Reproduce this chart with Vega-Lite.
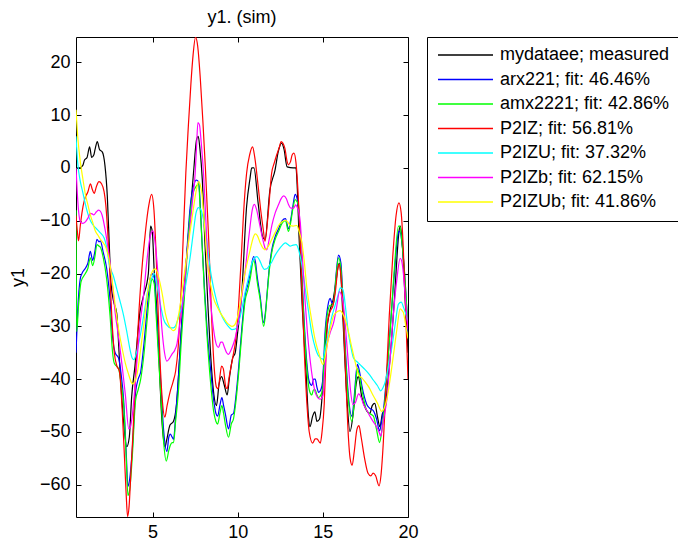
{
"$schema":"https://vega.github.io/schema/vega-lite/v6.json",
"width":332,"height":480,
"autosize":{"type":"none"},
"padding":{"left":76,"top":37,"right":270,"bottom":27},
"background":"white",
"title":{"text":"y1. (sim)","font":"Liberation Sans","fontSize":18,"fontWeight":"normal","color":"black","offset":8},
"config":{
 "view":{"stroke":"black","strokeWidth":1},
 "axis":{"domain":false,"grid":false,"ticks":true,"tickSize":-5,"tickColor":"black","tickWidth":1,"labelFont":"Liberation Sans","labelFontSize":18,"labelColor":"black","labelPadding":11,"labelFlush":false,"labelOverlap":false,"titleFont":"Liberation Sans","titleFontSize":18,"titleFontWeight":"normal","titleColor":"black"}
},
"datasets":{"d":[
{"s":"m","x":0.5,"y":0},{"s":"m","x":0.7,"y":0},{"s":"m","x":0.9,"y":0.5},{"s":"m","x":1.0,"y":1.5},{"s":"m","x":1.15,"y":2},{"s":"m","x":1.3,"y":4},{"s":"m","x":1.42,"y":2},{"s":"m","x":1.55,"y":2.5},{"s":"m","x":1.62,"y":3.5},{"s":"m","x":1.75,"y":5},{"s":"m","x":1.88,"y":3.5},{"s":"m","x":2.05,"y":3},{"s":"m","x":2.2,"y":0.5},{"s":"m","x":2.34,"y":-5.4},{"s":"m","x":2.46,"y":-15},{"s":"m","x":2.54,"y":-21},{"s":"m","x":2.69,"y":-25},{"s":"m","x":2.89,"y":-27.5},{"s":"m","x":3.08,"y":-38},{"s":"m","x":3.28,"y":-47.5},{"s":"m","x":3.48,"y":-52.8},{"s":"m","x":3.63,"y":-51},{"s":"m","x":3.77,"y":-43.3},{"s":"m","x":3.96,"y":-37.6},{"s":"m","x":4.26,"y":-27.2},{"s":"m","x":4.45,"y":-24.4},{"s":"m","x":4.75,"y":-20},{"s":"m","x":4.88,"y":-11},{"s":"m","x":4.98,"y":-12},{"s":"m","x":5.1,"y":-20},{"s":"m","x":5.25,"y":-27},{"s":"m","x":5.4,"y":-38},{"s":"m","x":5.53,"y":-47},{"s":"m","x":5.73,"y":-52.8},{"s":"m","x":5.82,"y":-51.6},{"s":"m","x":6.02,"y":-48.7},{"s":"m","x":6.22,"y":-48},{"s":"m","x":6.41,"y":-44.6},{"s":"m","x":6.62,"y":-34},{"s":"m","x":6.8,"y":-24.7},{"s":"m","x":7.0,"y":-16.8},{"s":"m","x":7.2,"y":-8.9},{"s":"m","x":7.4,"y":-1},{"s":"m","x":7.59,"y":5.5},{"s":"m","x":7.68,"y":6},{"s":"m","x":7.78,"y":3.6},{"s":"m","x":7.92,"y":-2.3},{"s":"m","x":8.07,"y":-14},{"s":"m","x":8.27,"y":-27.4},{"s":"m","x":8.46,"y":-37.9},{"s":"m","x":8.6,"y":-43},{"s":"m","x":8.75,"y":-45},{"s":"m","x":8.9,"y":-41},{"s":"m","x":9.05,"y":-39.5},{"s":"m","x":9.2,"y":-41},{"s":"m","x":9.38,"y":-43},{"s":"m","x":9.5,"y":-40},{"s":"m","x":9.7,"y":-36},{"s":"m","x":9.85,"y":-35},{"s":"m","x":10.0,"y":-31},{"s":"m","x":10.23,"y":-24},{"s":"m","x":10.52,"y":-7.3},{"s":"m","x":10.72,"y":-2},{"s":"m","x":10.82,"y":0},{"s":"m","x":10.95,"y":0},{"s":"m","x":11.2,"y":-6.7},{"s":"m","x":11.46,"y":-13},{"s":"m","x":11.6,"y":-13.6},{"s":"m","x":11.89,"y":-4.2},{"s":"m","x":12.19,"y":-0.4},{"s":"m","x":12.38,"y":3.1},{"s":"m","x":12.58,"y":4.7},{"s":"m","x":12.72,"y":3.5},{"s":"m","x":12.9,"y":0.2},{"s":"m","x":13.26,"y":0},{"s":"m","x":13.42,"y":0},{"s":"m","x":13.5,"y":-4},{"s":"m","x":13.6,"y":-13},{"s":"m","x":13.8,"y":-27},{"s":"m","x":14.0,"y":-38},{"s":"m","x":14.15,"y":-47},{"s":"m","x":14.24,"y":-49},{"s":"m","x":14.4,"y":-47},{"s":"m","x":14.53,"y":-46.2},{"s":"m","x":14.65,"y":-48},{"s":"m","x":14.8,"y":-47.6},{"s":"m","x":14.93,"y":-44.3},{"s":"m","x":15.1,"y":-35},{"s":"m","x":15.25,"y":-30},{"s":"m","x":15.41,"y":-27},{"s":"m","x":15.6,"y":-25},{"s":"m","x":15.75,"y":-22},{"s":"m","x":15.96,"y":-18},{"s":"m","x":16.05,"y":-20},{"s":"m","x":16.2,"y":-30},{"s":"m","x":16.4,"y":-43},{"s":"m","x":16.59,"y":-49.9},{"s":"m","x":16.8,"y":-46},{"s":"m","x":16.95,"y":-41},{"s":"m","x":17.08,"y":-39.5},{"s":"m","x":17.28,"y":-43.3},{"s":"m","x":17.5,"y":-45.5},{"s":"m","x":17.76,"y":-46.5},{"s":"m","x":17.9,"y":-45},{"s":"m","x":18.05,"y":-44.6},{"s":"m","x":18.2,"y":-47},{"s":"m","x":18.35,"y":-49},{"s":"m","x":18.5,"y":-46.5},{"s":"m","x":18.64,"y":-45.8},{"s":"m","x":18.8,"y":-41},{"s":"m","x":19.0,"y":-34},{"s":"m","x":19.2,"y":-25},{"s":"m","x":19.35,"y":-17},{"s":"m","x":19.47,"y":-12},{"s":"m","x":19.55,"y":-11},{"s":"m","x":19.68,"y":-15},{"s":"m","x":19.82,"y":-24},{"s":"m","x":20.0,"y":-35},
{"s":"a","x":0.5,"y":-35},{"s":"a","x":0.6,"y":-27},{"s":"a","x":0.75,"y":-21},{"s":"a","x":0.85,"y":-20},{"s":"a","x":1.05,"y":-19},{"s":"a","x":1.2,"y":-18},{"s":"a","x":1.34,"y":-15.8},{"s":"a","x":1.48,"y":-17.5},{"s":"a","x":1.6,"y":-16},{"s":"a","x":1.73,"y":-13.5},{"s":"a","x":1.85,"y":-14},{"s":"a","x":1.93,"y":-13.8},{"s":"a","x":2.1,"y":-16},{"s":"a","x":2.3,"y":-19},{"s":"a","x":2.5,"y":-25},{"s":"a","x":2.65,"y":-32},{"s":"a","x":2.8,"y":-35},{"s":"a","x":3.0,"y":-36},{"s":"a","x":3.15,"y":-39},{"s":"a","x":3.3,"y":-44},{"s":"a","x":3.45,"y":-54},{"s":"a","x":3.55,"y":-60.3},{"s":"a","x":3.65,"y":-59},{"s":"a","x":3.8,"y":-53.7},{"s":"a","x":4.0,"y":-42.5},{"s":"a","x":4.15,"y":-40},{"s":"a","x":4.3,"y":-38.6},{"s":"a","x":4.5,"y":-33},{"s":"a","x":4.67,"y":-27},{"s":"a","x":4.85,"y":-21},{"s":"a","x":4.96,"y":-20},{"s":"a","x":5.1,"y":-20.8},{"s":"a","x":5.2,"y":-26},{"s":"a","x":5.35,"y":-34},{"s":"a","x":5.5,"y":-42},{"s":"a","x":5.65,"y":-49.8},{"s":"a","x":5.84,"y":-53.7},{"s":"a","x":5.95,"y":-51},{"s":"a","x":6.04,"y":-50.4},{"s":"a","x":6.15,"y":-51},{"s":"a","x":6.23,"y":-51.4},{"s":"a","x":6.35,"y":-47},{"s":"a","x":6.5,"y":-40.5},{"s":"a","x":6.7,"y":-30},{"s":"a","x":6.92,"y":-20.8},{"s":"a","x":7.05,"y":-14},{"s":"a","x":7.2,"y":-7.6},{"s":"a","x":7.4,"y":-3.5},{"s":"a","x":7.56,"y":-2.3},{"s":"a","x":7.7,"y":-2.6},{"s":"a","x":7.8,"y":-7},{"s":"a","x":7.9,"y":-14},{"s":"a","x":8.05,"y":-23},{"s":"a","x":8.2,"y":-30.6},{"s":"a","x":8.4,"y":-38},{"s":"a","x":8.58,"y":-43.8},{"s":"a","x":8.72,"y":-46.5},{"s":"a","x":8.82,"y":-47},{"s":"a","x":8.95,"y":-45},{"s":"a","x":9.07,"y":-43.5},{"s":"a","x":9.17,"y":-45},{"s":"a","x":9.27,"y":-46.5},{"s":"a","x":9.46,"y":-49.4},{"s":"a","x":9.62,"y":-46.8},{"s":"a","x":9.75,"y":-46.5},{"s":"a","x":9.9,"y":-43},{"s":"a","x":10.05,"y":-37.9},{"s":"a","x":10.25,"y":-30},{"s":"a","x":10.44,"y":-24},{"s":"a","x":10.6,"y":-22},{"s":"a","x":10.73,"y":-20},{"s":"a","x":10.93,"y":-16.8},{"s":"a","x":11.05,"y":-18},{"s":"a","x":11.12,"y":-20},{"s":"a","x":11.32,"y":-24.4},{"s":"a","x":11.52,"y":-29.3},{"s":"a","x":11.62,"y":-27.5},{"s":"a","x":11.7,"y":-24.7},{"s":"a","x":11.85,"y":-19},{"s":"a","x":12.0,"y":-15.5},{"s":"a","x":12.2,"y":-13},{"s":"a","x":12.4,"y":-11.5},{"s":"a","x":12.6,"y":-10},{"s":"a","x":12.8,"y":-9.6},{"s":"a","x":12.98,"y":-11.5},{"s":"a","x":13.1,"y":-10},{"s":"a","x":13.25,"y":-7},{"s":"a","x":13.37,"y":-5},{"s":"a","x":13.5,"y":-6},{"s":"a","x":13.57,"y":-7.6},{"s":"a","x":13.67,"y":-13},{"s":"a","x":13.77,"y":-20.8},{"s":"a","x":13.9,"y":-29},{"s":"a","x":14.06,"y":-37},{"s":"a","x":14.2,"y":-40.5},{"s":"a","x":14.35,"y":-41.2},{"s":"a","x":14.45,"y":-40},{"s":"a","x":14.55,"y":-40},{"s":"a","x":14.65,"y":-41.5},{"s":"a","x":14.75,"y":-42.5},{"s":"a","x":14.88,"y":-42},{"s":"a","x":14.98,"y":-40.5},{"s":"a","x":15.14,"y":-30.6},{"s":"a","x":15.3,"y":-26},{"s":"a","x":15.43,"y":-24.7},{"s":"a","x":15.53,"y":-25.5},{"s":"a","x":15.63,"y":-25.4},{"s":"a","x":15.78,"y":-20},{"s":"a","x":15.92,"y":-16.5},{"s":"a","x":16.06,"y":-18},{"s":"a","x":16.21,"y":-27.4},{"s":"a","x":16.35,"y":-36},{"s":"a","x":16.5,"y":-43.2},{"s":"a","x":16.7,"y":-47},{"s":"a","x":16.85,"y":-43},{"s":"a","x":16.95,"y":-39},{"s":"a","x":17.03,"y":-37.2},{"s":"a","x":17.15,"y":-38.5},{"s":"a","x":17.29,"y":-41.2},{"s":"a","x":17.45,"y":-43.5},{"s":"a","x":17.58,"y":-44.8},{"s":"a","x":17.75,"y":-45.5},{"s":"a","x":17.97,"y":-46},{"s":"a","x":18.15,"y":-47.5},{"s":"a","x":18.33,"y":-49.8},{"s":"a","x":18.45,"y":-48},{"s":"a","x":18.56,"y":-45.8},{"s":"a","x":18.75,"y":-39},{"s":"a","x":18.95,"y":-30.6},{"s":"a","x":19.2,"y":-20},{"s":"a","x":19.44,"y":-12.2},{"s":"a","x":19.52,"y":-12},{"s":"a","x":19.64,"y":-14},{"s":"a","x":19.8,"y":-20},{"s":"a","x":20.0,"y":-31},
{"s":"x","x":0.5,"y":-8},{"s":"x","x":0.54,"y":-31},{"s":"x","x":0.65,"y":-26},{"s":"x","x":0.8,"y":-21.5},{"s":"x","x":1.05,"y":-20},{"s":"x","x":1.2,"y":-19},{"s":"x","x":1.34,"y":-17},{"s":"x","x":1.48,"y":-18.5},{"s":"x","x":1.6,"y":-17},{"s":"x","x":1.73,"y":-14.5},{"s":"x","x":1.85,"y":-14.8},{"s":"x","x":1.93,"y":-15},{"s":"x","x":2.1,"y":-17},{"s":"x","x":2.3,"y":-21},{"s":"x","x":2.5,"y":-28},{"s":"x","x":2.65,"y":-35},{"s":"x","x":2.75,"y":-37},{"s":"x","x":3.0,"y":-38},{"s":"x","x":3.15,"y":-41},{"s":"x","x":3.3,"y":-45},{"s":"x","x":3.45,"y":-55},{"s":"x","x":3.55,"y":-62},{"s":"x","x":3.65,"y":-61},{"s":"x","x":3.8,"y":-55},{"s":"x","x":4.0,"y":-44},{"s":"x","x":4.15,"y":-42},{"s":"x","x":4.3,"y":-40},{"s":"x","x":4.5,"y":-35},{"s":"x","x":4.67,"y":-29},{"s":"x","x":4.85,"y":-23},{"s":"x","x":4.96,"y":-21},{"s":"x","x":5.1,"y":-22},{"s":"x","x":5.2,"y":-27.5},{"s":"x","x":5.35,"y":-36},{"s":"x","x":5.5,"y":-44},{"s":"x","x":5.65,"y":-52},{"s":"x","x":5.8,"y":-55.5},{"s":"x","x":5.95,"y":-53.5},{"s":"x","x":6.04,"y":-52.5},{"s":"x","x":6.15,"y":-52},{"s":"x","x":6.23,"y":-52},{"s":"x","x":6.35,"y":-48},{"s":"x","x":6.5,"y":-43},{"s":"x","x":6.7,"y":-32},{"s":"x","x":6.92,"y":-22},{"s":"x","x":7.05,"y":-15},{"s":"x","x":7.2,"y":-9},{"s":"x","x":7.4,"y":-4.5},{"s":"x","x":7.56,"y":-3.5},{"s":"x","x":7.7,"y":-3},{"s":"x","x":7.8,"y":-8},{"s":"x","x":7.9,"y":-14},{"s":"x","x":8.05,"y":-24},{"s":"x","x":8.2,"y":-32},{"s":"x","x":8.4,"y":-40.5},{"s":"x","x":8.58,"y":-46},{"s":"x","x":8.72,"y":-48},{"s":"x","x":8.82,"y":-48.5},{"s":"x","x":8.95,"y":-46.5},{"s":"x","x":9.07,"y":-45},{"s":"x","x":9.17,"y":-46.5},{"s":"x","x":9.27,"y":-48.5},{"s":"x","x":9.46,"y":-51},{"s":"x","x":9.62,"y":-48.5},{"s":"x","x":9.75,"y":-47.5},{"s":"x","x":9.9,"y":-44},{"s":"x","x":10.05,"y":-39},{"s":"x","x":10.25,"y":-31},{"s":"x","x":10.44,"y":-25},{"s":"x","x":10.6,"y":-23},{"s":"x","x":10.73,"y":-21},{"s":"x","x":10.93,"y":-17.5},{"s":"x","x":11.05,"y":-19},{"s":"x","x":11.12,"y":-21},{"s":"x","x":11.32,"y":-25},{"s":"x","x":11.52,"y":-30},{"s":"x","x":11.62,"y":-28},{"s":"x","x":11.7,"y":-25},{"s":"x","x":11.85,"y":-19.5},{"s":"x","x":12.0,"y":-16},{"s":"x","x":12.2,"y":-13.5},{"s":"x","x":12.4,"y":-12},{"s":"x","x":12.6,"y":-10.5},{"s":"x","x":12.8,"y":-10},{"s":"x","x":12.98,"y":-12},{"s":"x","x":13.1,"y":-10.5},{"s":"x","x":13.25,"y":-7.5},{"s":"x","x":13.37,"y":-6},{"s":"x","x":13.5,"y":-6.5},{"s":"x","x":13.57,"y":-7},{"s":"x","x":13.67,"y":-14},{"s":"x","x":13.77,"y":-21},{"s":"x","x":13.9,"y":-30},{"s":"x","x":14.06,"y":-38},{"s":"x","x":14.2,"y":-42},{"s":"x","x":14.35,"y":-43},{"s":"x","x":14.45,"y":-42},{"s":"x","x":14.55,"y":-42},{"s":"x","x":14.65,"y":-43},{"s":"x","x":14.75,"y":-43.5},{"s":"x","x":14.88,"y":-43},{"s":"x","x":14.98,"y":-42},{"s":"x","x":15.14,"y":-32},{"s":"x","x":15.3,"y":-27},{"s":"x","x":15.43,"y":-26},{"s":"x","x":15.53,"y":-26},{"s":"x","x":15.63,"y":-25.5},{"s":"x","x":15.78,"y":-20.5},{"s":"x","x":15.92,"y":-17},{"s":"x","x":16.06,"y":-19},{"s":"x","x":16.21,"y":-28},{"s":"x","x":16.35,"y":-37},{"s":"x","x":16.5,"y":-44},{"s":"x","x":16.7,"y":-48},{"s":"x","x":16.85,"y":-44},{"s":"x","x":16.95,"y":-40},{"s":"x","x":17.03,"y":-38},{"s":"x","x":17.15,"y":-39.5},{"s":"x","x":17.29,"y":-42},{"s":"x","x":17.45,"y":-44.5},{"s":"x","x":17.58,"y":-46},{"s":"x","x":17.75,"y":-46.5},{"s":"x","x":17.97,"y":-47},{"s":"x","x":18.15,"y":-49.5},{"s":"x","x":18.33,"y":-52},{"s":"x","x":18.45,"y":-50},{"s":"x","x":18.56,"y":-47},{"s":"x","x":18.75,"y":-39.5},{"s":"x","x":18.95,"y":-31},{"s":"x","x":19.2,"y":-19},{"s":"x","x":19.44,"y":-11},{"s":"x","x":19.52,"y":-11},{"s":"x","x":19.64,"y":-14},{"s":"x","x":19.8,"y":-20},{"s":"x","x":20.0,"y":-30},
{"s":"p","x":0.5,"y":-9},{"s":"p","x":0.58,"y":-12},{"s":"p","x":0.65,"y":-13.8},{"s":"p","x":0.75,"y":-11},{"s":"p","x":0.85,"y":-8.5},{"s":"p","x":1.0,"y":-6},{"s":"p","x":1.2,"y":-4.5},{"s":"p","x":1.35,"y":-3},{"s":"p","x":1.45,"y":-4},{"s":"p","x":1.57,"y":-4.8},{"s":"p","x":1.7,"y":-3.5},{"s":"p","x":1.85,"y":-2.6},{"s":"p","x":2.0,"y":-3},{"s":"p","x":2.15,"y":-4.5},{"s":"p","x":2.25,"y":-7},{"s":"p","x":2.36,"y":-12},{"s":"p","x":2.46,"y":-18},{"s":"p","x":2.6,"y":-28},{"s":"p","x":2.75,"y":-35},{"s":"p","x":2.9,"y":-37.5},{"s":"p","x":3.05,"y":-38.5},{"s":"p","x":3.2,"y":-45},{"s":"p","x":3.35,"y":-55},{"s":"p","x":3.45,"y":-62},{"s":"p","x":3.53,"y":-66},{"s":"p","x":3.62,"y":-64},{"s":"p","x":3.72,"y":-58},{"s":"p","x":3.85,"y":-50},{"s":"p","x":4.0,"y":-39},{"s":"p","x":4.2,"y":-27},{"s":"p","x":4.4,"y":-18},{"s":"p","x":4.55,"y":-13},{"s":"p","x":4.65,"y":-10},{"s":"p","x":4.78,"y":-7},{"s":"p","x":4.94,"y":-5},{"s":"p","x":5.08,"y":-8},{"s":"p","x":5.2,"y":-16},{"s":"p","x":5.3,"y":-25},{"s":"p","x":5.43,"y":-36},{"s":"p","x":5.57,"y":-44},{"s":"p","x":5.72,"y":-47.2},{"s":"p","x":5.85,"y":-45},{"s":"p","x":6.02,"y":-42.5},{"s":"p","x":6.2,"y":-40.5},{"s":"p","x":6.35,"y":-38.5},{"s":"p","x":6.5,"y":-34},{"s":"p","x":6.65,"y":-25},{"s":"p","x":6.8,"y":-13},{"s":"p","x":6.95,"y":-1},{"s":"p","x":7.1,"y":8},{"s":"p","x":7.25,"y":16},{"s":"p","x":7.38,"y":21.5},{"s":"p","x":7.52,"y":24.75},{"s":"p","x":7.65,"y":23},{"s":"p","x":7.8,"y":17},{"s":"p","x":7.95,"y":9},{"s":"p","x":8.1,"y":0},{"s":"p","x":8.3,"y":-14},{"s":"p","x":8.45,"y":-27},{"s":"p","x":8.6,"y":-37},{"s":"p","x":8.75,"y":-41.5},{"s":"p","x":8.85,"y":-41.8},{"s":"p","x":8.95,"y":-39.5},{"s":"p","x":9.05,"y":-37.5},{"s":"p","x":9.15,"y":-38},{"s":"p","x":9.3,"y":-41.5},{"s":"p","x":9.38,"y":-41.8},{"s":"p","x":9.5,"y":-39.5},{"s":"p","x":9.7,"y":-36},{"s":"p","x":9.9,"y":-32},{"s":"p","x":10.05,"y":-26},{"s":"p","x":10.2,"y":-17.5},{"s":"p","x":10.33,"y":-9.2},{"s":"p","x":10.52,"y":-1},{"s":"p","x":10.7,"y":2.5},{"s":"p","x":10.87,"y":4},{"s":"p","x":11.0,"y":2},{"s":"p","x":11.2,"y":-3.5},{"s":"p","x":11.35,"y":-8},{"s":"p","x":11.5,"y":-11.7},{"s":"p","x":11.6,"y":-13.9},{"s":"p","x":11.79,"y":-8.6},{"s":"p","x":11.99,"y":-1},{"s":"p","x":12.15,"y":1},{"s":"p","x":12.29,"y":2.5},{"s":"p","x":12.45,"y":4},{"s":"p","x":12.54,"y":5},{"s":"p","x":12.65,"y":4.7},{"s":"p","x":12.77,"y":3.7},{"s":"p","x":12.9,"y":1.2},{"s":"p","x":12.97,"y":0.6},{"s":"p","x":13.1,"y":1.2},{"s":"p","x":13.2,"y":2.5},{"s":"p","x":13.3,"y":2.8},{"s":"p","x":13.42,"y":1},{"s":"p","x":13.5,"y":-2.3},{"s":"p","x":13.62,"y":-10},{"s":"p","x":13.75,"y":-21},{"s":"p","x":13.9,"y":-34},{"s":"p","x":14.05,"y":-44},{"s":"p","x":14.2,"y":-50},{"s":"p","x":14.4,"y":-52.1},{"s":"p","x":14.55,"y":-51.3},{"s":"p","x":14.65,"y":-51.3},{"s":"p","x":14.85,"y":-52.1},{"s":"p","x":14.95,"y":-50},{"s":"p","x":15.08,"y":-44.7},{"s":"p","x":15.18,"y":-36},{"s":"p","x":15.28,"y":-29},{"s":"p","x":15.45,"y":-27},{"s":"p","x":15.6,"y":-26},{"s":"p","x":15.75,"y":-23},{"s":"p","x":15.88,"y":-19},{"s":"p","x":15.96,"y":-18.3},{"s":"p","x":16.05,"y":-20},{"s":"p","x":16.2,"y":-28},{"s":"p","x":16.35,"y":-40},{"s":"p","x":16.5,"y":-51},{"s":"p","x":16.6,"y":-55},{"s":"p","x":16.72,"y":-56.3},{"s":"p","x":16.85,"y":-53.5},{"s":"p","x":17.0,"y":-49.5},{"s":"p","x":17.12,"y":-48.8},{"s":"p","x":17.25,"y":-51},{"s":"p","x":17.45,"y":-55},{"s":"p","x":17.65,"y":-57.8},{"s":"p","x":17.82,"y":-58.3},{"s":"p","x":17.95,"y":-57.8},{"s":"p","x":18.1,"y":-58.3},{"s":"p","x":18.3,"y":-60.2},{"s":"p","x":18.42,"y":-58},{"s":"p","x":18.55,"y":-52},{"s":"p","x":18.7,"y":-42},{"s":"p","x":18.9,"y":-28},{"s":"p","x":19.1,"y":-17},{"s":"p","x":19.3,"y":-9},{"s":"p","x":19.47,"y":-6.6},{"s":"p","x":19.6,"y":-8.5},{"s":"p","x":19.72,"y":-15},{"s":"p","x":19.85,"y":-26},{"s":"p","x":20.0,"y":-40},
{"s":"u","x":0.5,"y":6},{"s":"u","x":0.6,"y":1},{"s":"u","x":0.75,"y":-2.5},{"s":"u","x":0.89,"y":-4.5},{"s":"u","x":1.1,"y":-7.5},{"s":"u","x":1.28,"y":-9.5},{"s":"u","x":1.5,"y":-10.8},{"s":"u","x":1.67,"y":-11.4},{"s":"u","x":1.9,"y":-12.2},{"s":"u","x":2.16,"y":-13.3},{"s":"u","x":2.3,"y":-15},{"s":"u","x":2.46,"y":-18.3},{"s":"u","x":2.7,"y":-20.5},{"s":"u","x":2.9,"y":-23},{"s":"u","x":3.1,"y":-25.4},{"s":"u","x":3.3,"y":-28},{"s":"u","x":3.5,"y":-31.3},{"s":"u","x":3.68,"y":-34.5},{"s":"u","x":3.8,"y":-36},{"s":"u","x":3.9,"y":-36.3},{"s":"u","x":4.05,"y":-35},{"s":"u","x":4.3,"y":-31.3},{"s":"u","x":4.5,"y":-27.5},{"s":"u","x":4.67,"y":-24},{"s":"u","x":4.85,"y":-21.5},{"s":"u","x":4.96,"y":-20.8},{"s":"u","x":5.1,"y":-20},{"s":"u","x":5.2,"y":-21},{"s":"u","x":5.35,"y":-24},{"s":"u","x":5.5,"y":-26.5},{"s":"u","x":5.65,"y":-28.7},{"s":"u","x":5.85,"y":-29.8},{"s":"u","x":6.04,"y":-30.3},{"s":"u","x":6.2,"y":-30.3},{"s":"u","x":6.33,"y":-30},{"s":"u","x":6.5,"y":-28.5},{"s":"u","x":6.72,"y":-26},{"s":"u","x":6.95,"y":-22},{"s":"u","x":7.2,"y":-17},{"s":"u","x":7.4,"y":-12},{"s":"u","x":7.55,"y":-8.5},{"s":"u","x":7.7,"y":-7.5},{"s":"u","x":7.85,"y":-8},{"s":"u","x":8.0,"y":-10},{"s":"u","x":8.15,"y":-13},{"s":"u","x":8.3,"y":-17},{"s":"u","x":8.45,"y":-20.5},{"s":"u","x":8.6,"y":-23},{"s":"u","x":8.78,"y":-25.4},{"s":"u","x":9.0,"y":-27.5},{"s":"u","x":9.17,"y":-28.7},{"s":"u","x":9.4,"y":-29.8},{"s":"u","x":9.66,"y":-30.6},{"s":"u","x":9.85,"y":-30.5},{"s":"u","x":10.05,"y":-29.3},{"s":"u","x":10.25,"y":-26.5},{"s":"u","x":10.44,"y":-23.4},{"s":"u","x":10.65,"y":-20.5},{"s":"u","x":10.83,"y":-18},{"s":"u","x":11.0,"y":-17},{"s":"u","x":11.12,"y":-16.8},{"s":"u","x":11.3,"y":-17.6},{"s":"u","x":11.42,"y":-18.5},{"s":"u","x":11.55,"y":-19.2},{"s":"u","x":11.7,"y":-19.1},{"s":"u","x":11.85,"y":-18.5},{"s":"u","x":12.0,"y":-17.8},{"s":"u","x":12.2,"y":-16.5},{"s":"u","x":12.4,"y":-15.5},{"s":"u","x":12.6,"y":-14.7},{"s":"u","x":12.8,"y":-14.2},{"s":"u","x":12.95,"y":-14.5},{"s":"u","x":13.08,"y":-14.8},{"s":"u","x":13.25,"y":-14.6},{"s":"u","x":13.43,"y":-14.5},{"s":"u","x":13.55,"y":-15.2},{"s":"u","x":13.67,"y":-16.8},{"s":"u","x":13.8,"y":-19},{"s":"u","x":13.96,"y":-22.7},{"s":"u","x":14.15,"y":-27},{"s":"u","x":14.35,"y":-31.3},{"s":"u","x":14.55,"y":-34},{"s":"u","x":14.75,"y":-35.6},{"s":"u","x":15.0,"y":-36.2},{"s":"u","x":15.15,"y":-34},{"s":"u","x":15.33,"y":-31.3},{"s":"u","x":15.5,"y":-28.5},{"s":"u","x":15.72,"y":-26},{"s":"u","x":15.9,"y":-24},{"s":"u","x":16.02,"y":-22.7},{"s":"u","x":16.12,"y":-22.8},{"s":"u","x":16.21,"y":-23.4},{"s":"u","x":16.35,"y":-27},{"s":"u","x":16.5,"y":-31.3},{"s":"u","x":16.65,"y":-34},{"s":"u","x":16.8,"y":-36},{"s":"u","x":17.04,"y":-36.8},{"s":"u","x":17.2,"y":-37.3},{"s":"u","x":17.48,"y":-38.2},{"s":"u","x":17.7,"y":-39},{"s":"u","x":17.97,"y":-40.2},{"s":"u","x":18.2,"y":-41.2},{"s":"u","x":18.4,"y":-42.2},{"s":"u","x":18.55,"y":-41.5},{"s":"u","x":18.66,"y":-40.5},{"s":"u","x":18.85,"y":-37.5},{"s":"u","x":19.05,"y":-34},{"s":"u","x":19.25,"y":-29.5},{"s":"u","x":19.44,"y":-25.8},{"s":"u","x":19.6,"y":-25.4},{"s":"u","x":19.75,"y":-26.5},{"s":"u","x":19.9,"y":-28},{"s":"u","x":20.0,"y":-29.3},
{"s":"b","x":0.5,"y":0},{"s":"b","x":0.58,"y":-5},{"s":"b","x":0.68,"y":-9},{"s":"b","x":0.76,"y":-10.2},{"s":"b","x":0.9,"y":-10.5},{"s":"b","x":1.05,"y":-10.2},{"s":"b","x":1.2,"y":-9.5},{"s":"b","x":1.34,"y":-8.6},{"s":"b","x":1.45,"y":-8.7},{"s":"b","x":1.54,"y":-8.9},{"s":"b","x":1.7,"y":-8.3},{"s":"b","x":1.83,"y":-8},{"s":"b","x":1.95,"y":-8.3},{"s":"b","x":2.03,"y":-8.9},{"s":"b","x":2.2,"y":-11.5},{"s":"b","x":2.35,"y":-14.5},{"s":"b","x":2.5,"y":-18},{"s":"b","x":2.65,"y":-22.5},{"s":"b","x":2.8,"y":-27.4},{"s":"b","x":3.0,"y":-32},{"s":"b","x":3.2,"y":-37.2},{"s":"b","x":3.4,"y":-43},{"s":"b","x":3.6,"y":-49.4},{"s":"b","x":3.7,"y":-49},{"s":"b","x":3.8,"y":-47},{"s":"b","x":3.95,"y":-42},{"s":"b","x":4.08,"y":-36.6},{"s":"b","x":4.25,"y":-30},{"s":"b","x":4.47,"y":-24},{"s":"b","x":4.65,"y":-18},{"s":"b","x":4.86,"y":-12.9},{"s":"b","x":5.02,"y":-11.9},{"s":"b","x":5.12,"y":-13.5},{"s":"b","x":5.25,"y":-17.5},{"s":"b","x":5.4,"y":-24},{"s":"b","x":5.55,"y":-30.6},{"s":"b","x":5.7,"y":-35},{"s":"b","x":5.84,"y":-36.6},{"s":"b","x":6.0,"y":-36},{"s":"b","x":6.13,"y":-35.3},{"s":"b","x":6.3,"y":-34.5},{"s":"b","x":6.43,"y":-33.3},{"s":"b","x":6.6,"y":-29.5},{"s":"b","x":6.82,"y":-24},{"s":"b","x":7.0,"y":-17},{"s":"b","x":7.2,"y":-10.9},{"s":"b","x":7.35,"y":-6},{"s":"b","x":7.5,"y":-1},{"s":"b","x":7.58,"y":4},{"s":"b","x":7.66,"y":8.6},{"s":"b","x":7.75,"y":8.2},{"s":"b","x":7.85,"y":5},{"s":"b","x":7.99,"y":-1},{"s":"b","x":8.1,"y":-8},{"s":"b","x":8.29,"y":-20.8},{"s":"b","x":8.45,"y":-27},{"s":"b","x":8.58,"y":-30.6},{"s":"b","x":8.75,"y":-33.5},{"s":"b","x":8.87,"y":-34},{"s":"b","x":9.0,"y":-33},{"s":"b","x":9.1,"y":-33},{"s":"b","x":9.2,"y":-33.8},{"s":"b","x":9.35,"y":-35},{"s":"b","x":9.46,"y":-35.3},{"s":"b","x":9.6,"y":-34.5},{"s":"b","x":9.75,"y":-33.3},{"s":"b","x":9.9,"y":-31.5},{"s":"b","x":10.05,"y":-28.7},{"s":"b","x":10.25,"y":-24},{"s":"b","x":10.44,"y":-19.4},{"s":"b","x":10.6,"y":-14.5},{"s":"b","x":10.73,"y":-10.9},{"s":"b","x":10.85,"y":-8},{"s":"b","x":10.97,"y":-6.9},{"s":"b","x":11.1,"y":-7.8},{"s":"b","x":11.22,"y":-9.6},{"s":"b","x":11.4,"y":-12.5},{"s":"b","x":11.52,"y":-14.2},{"s":"b","x":11.62,"y":-15.3},{"s":"b","x":11.7,"y":-15.5},{"s":"b","x":11.85,"y":-13.5},{"s":"b","x":12.0,"y":-10.9},{"s":"b","x":12.2,"y":-8.5},{"s":"b","x":12.4,"y":-6.9},{"s":"b","x":12.55,"y":-5.8},{"s":"b","x":12.7,"y":-5.3},{"s":"b","x":12.85,"y":-5.8},{"s":"b","x":12.98,"y":-6.9},{"s":"b","x":13.12,"y":-7.6},{"s":"b","x":13.28,"y":-7.6},{"s":"b","x":13.4,"y":-7},{"s":"b","x":13.5,"y":-7.5},{"s":"b","x":13.6,"y":-8.5},{"s":"b","x":13.67,"y":-10.2},{"s":"b","x":13.8,"y":-17},{"s":"b","x":13.96,"y":-25.4},{"s":"b","x":14.1,"y":-31.5},{"s":"b","x":14.26,"y":-36.6},{"s":"b","x":14.4,"y":-40},{"s":"b","x":14.55,"y":-42.5},{"s":"b","x":14.7,"y":-43.5},{"s":"b","x":14.84,"y":-43.8},{"s":"b","x":15.0,"y":-43.2},{"s":"b","x":15.1,"y":-39},{"s":"b","x":15.23,"y":-34},{"s":"b","x":15.4,"y":-31.5},{"s":"b","x":15.63,"y":-29.3},{"s":"b","x":15.8,"y":-26.5},{"s":"b","x":15.98,"y":-23.4},{"s":"b","x":16.08,"y":-24},{"s":"b","x":16.21,"y":-26},{"s":"b","x":16.35,"y":-31},{"s":"b","x":16.5,"y":-37.2},{"s":"b","x":16.62,"y":-42},{"s":"b","x":16.76,"y":-44.8},{"s":"b","x":16.9,"y":-44.5},{"s":"b","x":17.1,"y":-42.8},{"s":"b","x":17.25,"y":-43.5},{"s":"b","x":17.39,"y":-44.8},{"s":"b","x":17.6,"y":-46},{"s":"b","x":17.78,"y":-47.1},{"s":"b","x":17.95,"y":-48},{"s":"b","x":18.17,"y":-49.1},{"s":"b","x":18.3,"y":-50},{"s":"b","x":18.4,"y":-50.8},{"s":"b","x":18.5,"y":-49},{"s":"b","x":18.6,"y":-47},{"s":"b","x":18.76,"y":-43.8},{"s":"b","x":18.95,"y":-36},{"s":"b","x":19.15,"y":-27.4},{"s":"b","x":19.35,"y":-21},{"s":"b","x":19.54,"y":-17.1},{"s":"b","x":19.62,"y":-17.5},{"s":"b","x":19.73,"y":-20},{"s":"b","x":19.85,"y":-25},{"s":"b","x":20.0,"y":-30.6},
{"s":"y","x":0.5,"y":11},{"s":"y","x":0.6,"y":6},{"s":"y","x":0.76,"y":1},{"s":"y","x":0.9,"y":-2},{"s":"y","x":1.05,"y":-5},{"s":"y","x":1.2,"y":-7},{"s":"y","x":1.34,"y":-8.9},{"s":"y","x":1.5,"y":-10.5},{"s":"y","x":1.63,"y":-11.9},{"s":"y","x":1.8,"y":-12.8},{"s":"y","x":1.93,"y":-13.5},{"s":"y","x":2.1,"y":-14.2},{"s":"y","x":2.22,"y":-14.8},{"s":"y","x":2.35,"y":-16},{"s":"y","x":2.52,"y":-18.8},{"s":"y","x":2.65,"y":-22},{"s":"y","x":2.8,"y":-26},{"s":"y","x":3.0,"y":-30.5},{"s":"y","x":3.2,"y":-34},{"s":"y","x":3.4,"y":-37},{"s":"y","x":3.6,"y":-39.2},{"s":"y","x":3.75,"y":-40.6},{"s":"y","x":3.83,"y":-40.9},{"s":"y","x":3.95,"y":-40.5},{"s":"y","x":4.08,"y":-39.2},{"s":"y","x":4.25,"y":-35.5},{"s":"y","x":4.47,"y":-30},{"s":"y","x":4.65,"y":-25},{"s":"y","x":4.86,"y":-20.8},{"s":"y","x":5.0,"y":-19.5},{"s":"y","x":5.16,"y":-19.1},{"s":"y","x":5.3,"y":-20},{"s":"y","x":5.45,"y":-22},{"s":"y","x":5.6,"y":-24.5},{"s":"y","x":5.74,"y":-27.4},{"s":"y","x":5.9,"y":-29.3},{"s":"y","x":6.05,"y":-30.3},{"s":"y","x":6.2,"y":-30.8},{"s":"y","x":6.33,"y":-30.6},{"s":"y","x":6.45,"y":-29},{"s":"y","x":6.62,"y":-26},{"s":"y","x":6.8,"y":-21.5},{"s":"y","x":7.0,"y":-16.8},{"s":"y","x":7.2,"y":-12},{"s":"y","x":7.4,"y":-7.6},{"s":"y","x":7.55,"y":-4.5},{"s":"y","x":7.7,"y":-2.6},{"s":"y","x":7.8,"y":-3.2},{"s":"y","x":7.9,"y":-5},{"s":"y","x":8.05,"y":-11},{"s":"y","x":8.2,"y":-17.5},{"s":"y","x":8.4,"y":-22},{"s":"y","x":8.58,"y":-24.7},{"s":"y","x":8.78,"y":-26.2},{"s":"y","x":8.97,"y":-27.4},{"s":"y","x":9.2,"y":-28.5},{"s":"y","x":9.36,"y":-29.3},{"s":"y","x":9.5,"y":-29.7},{"s":"y","x":9.66,"y":-30},{"s":"y","x":9.8,"y":-29.8},{"s":"y","x":9.95,"y":-28.7},{"s":"y","x":10.15,"y":-25.5},{"s":"y","x":10.34,"y":-21.4},{"s":"y","x":10.55,"y":-18},{"s":"y","x":10.73,"y":-15.5},{"s":"y","x":10.9,"y":-13.3},{"s":"y","x":11.03,"y":-12.5},{"s":"y","x":11.15,"y":-12.8},{"s":"y","x":11.32,"y":-14.2},{"s":"y","x":11.48,"y":-15.2},{"s":"y","x":11.6,"y":-15.5},{"s":"y","x":11.8,"y":-14.8},{"s":"y","x":12.0,"y":-13.5},{"s":"y","x":12.2,"y":-12.2},{"s":"y","x":12.4,"y":-10.9},{"s":"y","x":12.6,"y":-10.2},{"s":"y","x":12.8,"y":-9.9},{"s":"y","x":12.95,"y":-10.3},{"s":"y","x":13.08,"y":-10.9},{"s":"y","x":13.25,"y":-11},{"s":"y","x":13.47,"y":-10.9},{"s":"y","x":13.6,"y":-12},{"s":"y","x":13.77,"y":-14.2},{"s":"y","x":13.9,"y":-17.5},{"s":"y","x":14.06,"y":-22.7},{"s":"y","x":14.3,"y":-28},{"s":"y","x":14.55,"y":-32.6},{"s":"y","x":14.8,"y":-35.5},{"s":"y","x":15.0,"y":-37.2},{"s":"y","x":15.12,"y":-36},{"s":"y","x":15.23,"y":-34},{"s":"y","x":15.4,"y":-31},{"s":"y","x":15.63,"y":-28},{"s":"y","x":15.85,"y":-27.2},{"s":"y","x":16.02,"y":-27},{"s":"y","x":16.15,"y":-27.5},{"s":"y","x":16.31,"y":-28.7},{"s":"y","x":16.5,"y":-31},{"s":"y","x":16.7,"y":-34},{"s":"y","x":16.9,"y":-36.8},{"s":"y","x":17.1,"y":-39.2},{"s":"y","x":17.3,"y":-39.8},{"s":"y","x":17.48,"y":-40.5},{"s":"y","x":17.7,"y":-41.5},{"s":"y","x":17.97,"y":-43.2},{"s":"y","x":18.2,"y":-44.5},{"s":"y","x":18.46,"y":-46.1},{"s":"y","x":18.6,"y":-45.5},{"s":"y","x":18.76,"y":-43.8},{"s":"y","x":18.95,"y":-40},{"s":"y","x":19.15,"y":-35.3},{"s":"y","x":19.35,"y":-30.5},{"s":"y","x":19.54,"y":-26.7},{"s":"y","x":19.65,"y":-27},{"s":"y","x":19.73,"y":-27.4},{"s":"y","x":19.85,"y":-29.5},{"s":"y","x":20.0,"y":-32.3}
]},
"data":{"name":"d"},
"layer":[
 {"mark":{"type":"line","strokeWidth":1.2,"clip":true,"interpolate":"monotone"},
  "encoding":{
   "x":{"field":"x","type":"quantitative","scale":{"domain":[0.5,20],"nice":false,"zero":false},"axis":{"orient":"bottom","values":[5,10,15,20],"title":null}},
   "y":{"field":"y","type":"quantitative","scale":{"domain":[-66.1,24.8],"nice":false,"zero":false},"axis":{"orient":"left","values":[-60,-50,-40,-30,-20,-10,0,10,20],"title":"y1","titlePadding":12}},
   "color":{"field":"s","type":"nominal","scale":{"domain":["m","a","x","p","u","b","y"],"range":["#000000","#0000ff","#00ff00","#ff0000","#00ffff","#ff00ff","#ffff00"]},
    "legend":{"orient":"none","legendX":351,"legendY":0,"title":null,"symbolType":"stroke","symbolSize":3025,"symbolStrokeWidth":1.5,"clipHeight":16,"rowPadding":6.5,"padding":10,"labelOffset":6,"labelFont":"Liberation Sans","labelFontSize":18,"labelColor":"black","labelLimit":400,"strokeColor":"black","fillColor":"white",
     "labelExpr":"datum.label=='m'?'mydataee; measured':datum.label=='a'?'arx221; fit: 46.46%':datum.label=='x'?'amx2221; fit: 42.86%':datum.label=='p'?'P2IZ; fit: 56.81%':datum.label=='u'?'P2IZU; fit: 37.32%':datum.label=='b'?'P2IZb; fit: 62.15%':'P2IZUb; fit: 41.86%'"}}
  }},
 {"mark":{"type":"point","opacity":0},
  "encoding":{
   "x":{"field":"x","type":"quantitative","axis":{"orient":"top","values":[5,10,15,20],"labels":false,"title":null}},
   "y":{"field":"y","type":"quantitative","axis":{"orient":"right","values":[-60,-50,-40,-30,-20,-10,0,10,20],"labels":false,"title":null}}
  }}
],
"resolve":{"axis":{"x":"independent","y":"independent"}}
}
